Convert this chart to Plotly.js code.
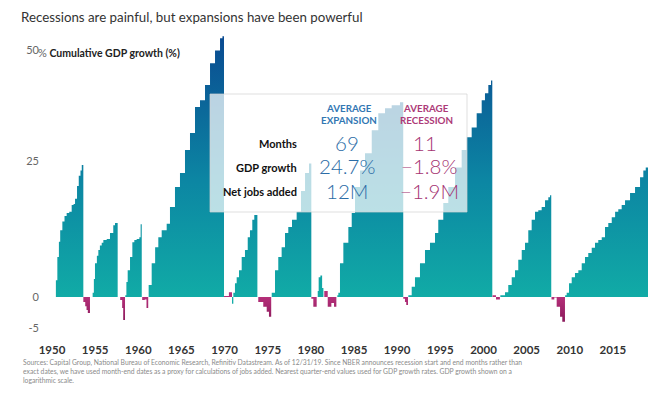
<!DOCTYPE html>
<html><head><meta charset="utf-8">
<script src="https://cdn.plot.ly/plotly-3.0.1.min.js"></script>
<style>html,body{margin:0;padding:0;background:#fff}</style>
</head><body><div id="chart" style="width:650px;height:393px"></div>
<script>
// ---- DATA: cumulative real GDP growth (%) per cycle; t = date (decimal year), end = cycle end ----
const exp1949 = {t:[1950.45,1950.62,1950.8,1950.95,1951.2,1951.45,1951.7,1952.0,1952.28,1952.5,1952.67,1952.9,1953.1,1953.3,1953.45],
                 g:[2.8,6.8,9.5,11.6,13.2,14.2,14.8,15.0,16.3,16.5,17.5,20.0,22.0,23.1,24.2], end:1953.63};
const rec1953 = {t:[1953.63,1953.85,1954.0,1954.15], g:[-0.8,-1.5,-2.1,-2.6], end:1954.4};
const exp1954 = {t:[1954.71,1954.85,1954.98,1955.2,1955.37,1955.55,1955.76,1955.95,1956.34,1956.72,1957.1,1957.3],
                 g:[0.7,3.0,5.7,7.0,8.0,8.8,9.3,9.8,10.0,11.1,12.5,12.9], end:1957.61};
const rec1957 = {t:[1957.9,1958.13,1958.25], g:[-0.5,-1.8,-3.7], end:1958.46};
const exp1958 = {t:[1958.49,1958.62,1958.77,1959.04,1959.31,1959.54,1959.81,1960.12,1960.27],
                 g:[0.3,2.5,4.5,6.8,9.4,9.8,10.0,10.3,12.7], end:1960.4};
const rec1960 = {t:[1960.45,1960.75,1960.95], g:[-0.5,-0.4,-1.8], end:1961.15};
const exp1961 = {t:[1961.2,1961.55,1961.95,1962.32,1962.71,1963.29,1963.67,1964.25,1964.83,1965.41,1965.99,1966.57,1967.15,1967.73,1968.31,1968.89,1969.47,1969.75],
                 g:[2.0,5.7,8.5,10.3,11.6,12.8,15.9,19.8,22.6,27.3,30.9,36.6,38.1,41.6,46.8,49.9,52.9,53.4], end:1969.93};
const rec1969 = {t:[1969.93,1970.5], g:[0.15,0.8], end:1970.86};
const exp1970 = {t:[1970.86,1971.01,1971.2,1971.4,1971.67,1971.98,1972.36,1972.68,1972.94,1973.21,1973.44],
                 g:[-1.1,0.7,2.3,3.3,4.5,6.8,8.0,10.3,11.6,13.5,14.4], end:1973.8};
const rec1973 = {t:[1973.9,1974.48,1974.88,1975.14], g:[-0.8,-1.6,-2.4,-3.2], end:1975.4};
const exp1975 = {t:[1975.46,1975.84,1976.22,1976.61,1977.0,1977.38,1977.81,1978.35,1978.85,1979.32,1979.78],
                 g:[0.7,4.5,6.8,8.5,11.1,12.2,13.5,15.0,19.0,22.6,24.5], end:1980.05};
const rec1980 = {t:[1980.05,1980.28], g:[-0.3,-1.6], end:1980.67};
const exp1980 = {t:[1980.79,1980.9,1981.1,1981.3], g:[1.0,3.3,3.6,1.5], end:1981.45};
const rec1981 = {t:[1981.55,1981.95,1982.37,1982.68], g:[1.0,-1.6,-1.0,-1.6], end:1982.95};
const exp1982 = {t:[1983.06,1983.18,1983.37,1983.76,1984.34,1984.73,1985.11,1985.69,1986.27,1987.05,1987.81,1988.59,1989.36,1990.32],
                 g:[0.3,0.7,5.7,9.3,12.2,14.8,19.8,23.1,26.6,31.5,35.2,36.3,37.0,37.7], end:1990.7};
const rec1990 = {t:[1990.7,1990.9,1991.05], g:[-0.3,-0.8,-1.3], end:1991.25};
const exp1991 = {t:[1991.29,1991.68,1992.06,1992.64,1993.22,1993.8,1994.38,1994.76,1995.34,1995.92,1996.7,1997.47,1998.05,1998.63,1999.21,1999.79,2000.17,2000.56,2000.87],
                 g:[0.3,1.7,3.3,5.7,8.0,9.3,11.1,13.5,16.7,19.8,23.7,27.3,30.0,32.1,35.2,38.1,39.7,41.6,42.7], end:2001.02};
const rec2001 = {t:[2001.05,2001.45], g:[0.3,-0.4], end:2001.9};
const exp2001 = {t:[2001.95,2002.49,2002.87,2003.27,2003.65,2004.03,2004.43,2004.81,2005.19,2005.58,2005.97,2006.35,2006.74,2007.13,2007.51,2007.71],
                 g:[0.3,0.8,2.0,3.3,4.5,6.3,8.0,9.3,11.6,13.5,15.0,15.3,15.9,17.2,17.8,18.2], end:2007.85};
const rec2007 = {t:[2007.88,2008.2,2008.48,2008.87,2009.13], g:[-0.4,-0.1,-1.6,-3.2,-4.0], end:2009.44};
const exp2009 = {t:[2009.46,2009.64,2009.91,2010.22,2010.6,2010.99,2011.38,2011.76,2012.14,2012.54,2012.92,2013.3,2013.7,2014.08,2014.46,2014.86,2015.25,2015.62,2016.01,2016.4,2016.98,2017.56,2018.14,2018.52,2018.8],
                 g:[0.3,0.7,2.3,3.3,4.0,4.5,5.7,6.8,7.5,8.4,9.3,9.8,10.3,12.2,12.9,14.0,15.0,15.5,16.3,17.2,18.6,19.8,21.7,23.1,23.7], end:2019.1};

const expansions = [exp1949, exp1954, exp1958, exp1961, exp1970, exp1975, exp1980, exp1982, exp1991, exp2001, exp2009];
const recessions = [rec1953, rec1957, rec1960, rec1969, rec1973, rec1980, rec1981, rec1990, rec2001, rec2007];

const yTickVals = [-5, 0, 25, 50];
const yTickText = ['-5', '0', '25', '50'];
const xTickYears = [1950, 1955, 1960, 1965, 1970, 1975, 1980, 1985, 1990, 1995, 2000, 2005, 2010, 2015];

const statRows = ['Months', 'GDP growth', 'Net jobs added'];
const avgExpansion = ['69', '24.7%', '12M'];
const avgRecession = ['11', '\u22121.8%', '\u22121.9M'];

const titleText = 'Recessions are painful, but expansions have been powerful';
const sourceText = 'Sources: Capital Group, National Bureau of Economic Research, Refinitiv Datastream. As of 12/31/19. Since NBER announces recession start and end months rather than<br>exact dates, we have used month-end dates as a proxy for calculations of jobs added. Nearest quarter-end values used for GDP growth rates. GDP growth shown on a<br>logarithmic scale.';

// ---- helpers ----
const level = g => 1 + g / 100;          // growth (%) -> level index, plotted on a log axis
const FONT = 'Lato, "Open Sans", "DejaVu Sans", sans-serif';

// layout geometry (pixels)
const W = 650, H = 393, L = 44, R = 648, T = 30, B = 340;
const px = x => (x - L) / (R - L);
const py = y => (B - y) / (B - T);

function segTrace(s, grad) {
  const x = s.t.concat([s.end, s.t[0]]);
  const y = s.g.map(level).concat([level(0), level(0)]);
  return {type:'scatter', mode:'lines', x:x, y:y, fill:'toself', line:{width:0, shape:'hv'},
          fillcolor: grad.fallback, fillgradient: grad.g, hoverinfo:'skip', showlegend:false};
}
const expGrad = {fallback:'#0e8aa3', g:{type:'vertical', start: level(0), stop: level(53),
                 colorscale:[[0,'#11aba6'],[0.45,'#0c86a3'],[1,'#0a4b91']]}};
const recGrad = {fallback:'#a3276c', g:{type:'vertical', start: level(-4), stop: level(0),
                 colorscale:[[0,'#8a1a5b'],[1,'#b52f79']]}};

const traces = [];
expansions.forEach(s => traces.push(segTrace(s, expGrad)));
recessions.forEach(s => traces.push(segTrace(s, recGrad)));

const ann = [];
ann.push({xref:'paper', yref:'paper', x:px(36.3), y:py(52.5), xanchor:'left', yanchor:'middle', showarrow:false,
          text:'<span style="color:#666;font-size:11px">%</span><b> Cumulative GDP growth (%)</b>', font:{family:FONT, size:10.5, color:'#222'}});
// stat box
const colExp = 347, colRec = 425;
[['AVERAGE',108.5],['EXPANSION',119.5]].forEach(([t,y]) => ann.push({xref:'paper', yref:'paper', x:px(colExp+2), y:py(y), xanchor:'center', yanchor:'middle', showarrow:false,
   text:'<b>'+t+'</b>', font:{family:FONT, size:9.8, color:'#3277b3'}}));
[['AVERAGE',108.5],['RECESSION',119.5]].forEach(([t,y]) => ann.push({xref:'paper', yref:'paper', x:px(colRec+1), y:py(y), xanchor:'center', yanchor:'middle', showarrow:false,
   text:'<b>'+t+'</b>', font:{family:FONT, size:9.8, color:'#ad3a78'}}));
const rowY = [143.5, 167, 191.5];
statRows.forEach((r,i) => {
  ann.push({xref:'paper', yref:'paper', x:px(299), y:py(rowY[i]), xanchor:'right', yanchor:'middle', showarrow:false,
            text:'<b>'+r+'</b>', font:{family:FONT, size:11, color:'#111'}});
  ann.push({xref:'paper', yref:'paper', x:px(colExp), y:py(rowY[i]-1), xanchor:'center', yanchor:'middle', showarrow:false,
            text:avgExpansion[i], font:{family:FONT, size:20.5, color:'#2b6ca6', weight:300}});
  ann.push({xref:'paper', yref:'paper', x:px(colRec + (i ? 4 : 0)), y:py(rowY[i]-1), xanchor:'center', yanchor:'middle', showarrow:false,
            text:avgRecession[i], font:{family:FONT, size:20.5, color:'#a53372', weight:300}});
});
// footnote
ann.push({xref:'paper', yref:'paper', x:px(21), y:py(355.5), xanchor:'left', yanchor:'top', align:'left', showarrow:false,
          text:sourceText, font:{family:FONT, size:6.75, color:'#8a8a8a'}});

const layout = {
  width:W, height:H, margin:{l:L, r:W-R, t:T, b:H-B, pad:0},
  paper_bgcolor:'#fff', plot_bgcolor:'#fff', hovermode:false, showlegend:false,
  title:{text:titleText, x:21/W, xanchor:'left', xref:'container', y:1-17/H, yanchor:'middle', yref:'container',
         font:{family:FONT, size:13.3, color:'#333'}},
  xaxis:{range:[1950-(52-L)/8.63, 1950+(R-52)/8.63], tickvals:xTickYears, ticktext:xTickYears.map(String),
         showgrid:false, zeroline:false, showline:false, ticks:'', fixedrange:true, ticklabelstandoff:1,
         tickfont:{family:FONT, size:11.5, color:'#333', weight:'bold'}},
  yaxis:{type:'log', range:[Math.log10(level(0)) - (B-297)/1402.6, Math.log10(level(0)) + (297-T)/1402.6],
         tickvals:yTickVals.map(level), ticktext:yTickText, showgrid:false, zeroline:false, showline:false, ticks:'',
         ticklabelstandoff:4, tickfont:{family:FONT, size:11, color:'#666'}},
  shapes:[{type:'rect', xref:'paper', yref:'paper', x0:px(210), x1:px(467), y0:py(212), y1:py(94), layer:'above',
           fillcolor:'rgba(255,255,255,0.72)', line:{color:'rgba(210,210,210,0.7)', width:1}}],
  annotations:ann
};
Plotly.newPlot('chart', traces, layout, {staticPlot:true, displayModeBar:false});
</script></body></html>
